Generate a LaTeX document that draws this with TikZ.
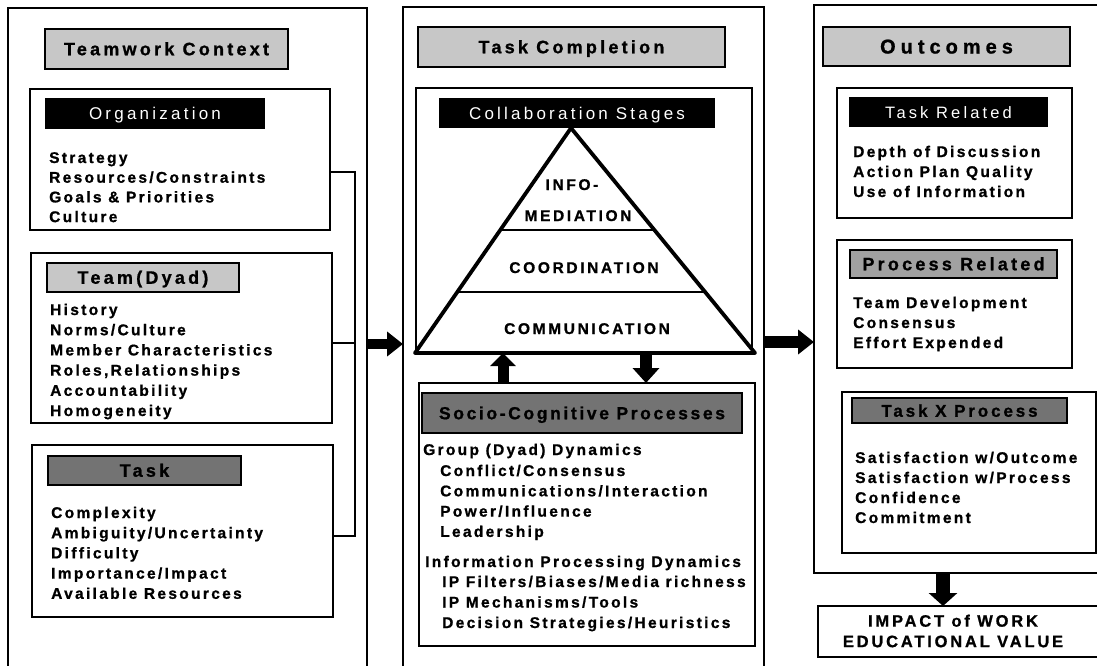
\documentclass[tikz,border=0pt]{standalone}
\usepackage{fontspec}
\setmainfont{Liberation Sans}
\newfontfamily\spaced{Liberation Sans}[LetterSpace=15, BoldFeatures={FakeBold=1}]
\usetikzlibrary{arrows.meta,calc}
\definecolor{hlight}{gray}{0.78}
\definecolor{hmid}{gray}{0.63}
\definecolor{hdark}{gray}{0.45}
\begin{document}
\begin{tikzpicture}[x=1pt,y=-1pt,
  frame/.style={draw=black, line width=1.8pt, fill=white, inner sep=0pt, outer sep=0pt, anchor=north west},
  hdr/.style={draw=black, line width=1.6pt, inner sep=0pt, outer sep=0pt, anchor=north west,
    font=\spaced\bfseries\addfontfeatures{LetterSpace=18}\fontsize{18}{20}\selectfont, text height=12.5pt, text depth=0pt},
  whdr/.style={fill=black, text=white, inner sep=0pt, outer sep=0pt, anchor=north west,
    font=\spaced\addfontfeatures{LetterSpace=19}\fontsize{17}{20}\selectfont, text height=12pt, text depth=0pt},
  item/.style={font=\spaced\bfseries\fontsize{15.5}{18}\selectfont, anchor=base west, inner sep=0pt},
  tri/.style={font=\spaced\bfseries\addfontfeatures{LetterSpace=17}\fontsize{15.5}{18}\selectfont, anchor=base, inner sep=0pt},
  bigarrow/.style={draw=black, line width=10pt, -{Triangle[length=16pt,width=24pt]}},
  link/.style={draw=black, line width=1.8pt}]

\useasboundingbox (0,0) rectangle (1097,665);
\fill[white] (0,0) rectangle (1097,665);

% ---------------- left column: teamwork context ----------------
\node[frame, minimum width=359, minimum height=700] (colL) at (8,8) {};
\node[hdr, fill=hlight, minimum width=243, minimum height=40] (tcx) at (45,29) {Teamwork Context};

\node[frame, minimum width=300, minimum height=141] (org) at (30,89) {};
\node[whdr, minimum width=220, minimum height=31] (orgh) at (45,98) {Organization};
\foreach \t [count=\i from 0] in {Strategy, Resources/Constraints, Goals \& Priorities, Culture}
  \node[item] (org-\i) at (49,{163+19.7*\i}) {\t};

\node[frame, minimum width=301, minimum height=170] (team) at (31,253) {};
\node[hdr, fill=hlight, minimum width=192, minimum height=29] (teamh) at (47,263) {Team(Dyad)};
\foreach \t [count=\i from 0] in {History, Norms/Culture, Member Characteristics, {Roles,Relationships}, Accountability, Homogeneity}
  \node[item] (team-\i) at (50,{315+20.2*\i}) {\t};

\node[frame, minimum width=301, minimum height=172] (task) at (32,445) {};
\node[hdr, fill=hdark, minimum width=193, minimum height=29] (taskh) at (48,456) {Task};
\foreach \t [count=\i from 0] in {Complexity, Ambiguity/Uncertainty, Difficulty, Importance/Impact, Available Resources}
  \node[item] (task-\i) at (51,{518+20.2*\i}) {\t};

% bracket joining the three context boxes
\coordinate (bx) at (355,0);
\coordinate (yorg) at (0,172);
\coordinate (yteam) at (0,343);
\coordinate (ytask) at (0,536);
\draw[link] (org.east |- yorg) -- (bx |- yorg) -- (bx |- ytask) -- (task.east |- ytask);
\draw[link] (team.east |- yteam) -- (bx |- yteam);

% ---------------- centre column: task completion ----------------
\node[frame, minimum width=361, minimum height=700] (colC) at (403,7) {};
\node[hdr, fill=hlight, minimum width=307, minimum height=40] (tch) at (418,27) {Task Completion};

\node[frame, minimum width=336, minimum height=265] (collab) at (416,88) {};

% collaboration pyramid
\coordinate (apex) at (571,128);
\coordinate (bl) at (415,353);
\coordinate (br) at (755,353);
\draw[line width=3.8pt, line join=round] (apex) -- (bl) -- (br) -- cycle;
\draw[line width=2pt] ($(apex)!0.4533!(bl)$) -- ($(apex)!0.4533!(br)$);
\draw[line width=2pt] ($(apex)!0.7289!(bl)$) -- ($(apex)!0.7289!(br)$);
\node[tri] (st-info) at (572,190) {INFO-};
\node[tri] (st-med) at (578,221) {MEDIATION};
\node[tri] (st-coord) at (584,273) {COORDINATION};
\node[tri] (st-comm) at (587,334) {COMMUNICATION};

\node[whdr, minimum width=276, minimum height=30] (collabh) at (439,98) {Collaboration Stages};

\node[frame, minimum width=336, minimum height=263] (socio) at (419,383) {};
\node[hdr, fill=hdark, minimum width=320, minimum height=40,
  font=\spaced\bfseries\addfontfeatures{LetterSpace=15}\fontsize{17.5}{20}\selectfont] (socioh) at (422,393) {Socio-Cognitive Processes};
\node[item] (sc-g) at (423,455) {Group (Dyad) Dynamics};
\foreach \t [count=\i from 0] in {Conflict/Consensus, Communications/Interaction, Power/Influence, Leadership}
  \node[item] (sc-g\i) at (440,{476+20.3*\i}) {\t};
\node[item] (sc-ip) at (425,567) {Information Processing Dynamics};
\foreach \t [count=\i from 0] in {IP Filters/Biases/Media richness, IP Mechanisms/Tools, Decision Strategies/Heuristics}
  \node[item] (sc-ip\i) at (442,{587+20.5*\i}) {\t};

% arrows between pyramid and processes
\coordinate (ux) at (503,0);
\coordinate (dx) at (646,0);
\draw[bigarrow, line width=11pt, -{Triangle[length=13pt,width=25pt]}] (socio.north -| ux) -- (collab.south -| ux);
\draw[bigarrow, line width=12pt, -{Triangle[length=15pt,width=26pt]}] (collab.south -| dx) -- (socio.north -| dx);

% ---------------- right column: outcomes ----------------
\node[frame, minimum width=300, minimum height=568] (colR) at (814,5) {};
\node[hdr, fill=hlight, minimum width=247, minimum height=39,
  font=\spaced\bfseries\addfontfeatures{LetterSpace=25}\fontsize{20}{22}\selectfont, text height=14pt] (outh) at (823,27) {Outcomes};

\node[frame, minimum width=235, minimum height=130] (trel) at (837,88) {};
\node[whdr, minimum width=199, minimum height=30,
  font=\spaced\addfontfeatures{LetterSpace=19}\fontsize{16.5}{20}\selectfont] (trelh) at (849,97) {Task Related};
\foreach \t [count=\i from 0] in {Depth of Discussion, Action Plan Quality, Use of Information}
  \node[item] (tr-\i) at (853,{157+20*\i}) {\t};

\node[frame, minimum width=235, minimum height=128] (prel) at (837,240) {};
\node[hdr, fill=hmid, minimum width=207, minimum height=28] (prelh) at (850,250) {Process Related};
\foreach \t [count=\i from 0] in {Team Development, Consensus, Effort Expended}
  \node[item] (pr-\i) at (853,{308+20*\i}) {\t};

\node[frame, minimum width=254, minimum height=161] (txp) at (842,392) {};
\node[hdr, fill=hdark, minimum width=215, minimum height=25,
  font=\spaced\bfseries\addfontfeatures{LetterSpace=17}\fontsize{17}{20}\selectfont] (txph) at (852,398) {Task X Process};
\foreach \t [count=\i from 0] in {Satisfaction w/Outcome, Satisfaction w/Process, Confidence, Commitment}
  \node[item] (tx-\i) at (855,{463+20*\i}) {\t};

\node[frame, minimum width=300, minimum height=51] (impact) at (818,606) {};
\node[font=\spaced\bfseries\addfontfeatures{LetterSpace=17}\fontsize{16.5}{20.5}\selectfont, align=center, inner sep=0pt] (impacttxt) at (953,631)
  {IMPACT of WORK\\EDUCATIONAL VALUE};

% ---------------- flow between columns ----------------
\coordinate (ya) at (0,344);
\coordinate (yb) at (0,342);
\coordinate (ox) at (943,0);
\draw[bigarrow] (colL.east |- ya) -- (colC.west |- ya);
\draw[bigarrow, line width=12pt, -{Triangle[length=16pt,width=24pt]}] (colC.east |- yb) -- (colR.west |- yb);
\draw[bigarrow, line width=14pt, -{Triangle[length=13pt,width=28pt]}] (colR.south -| ox) -- (impact.north -| ox);

\end{tikzpicture}
\end{document}
